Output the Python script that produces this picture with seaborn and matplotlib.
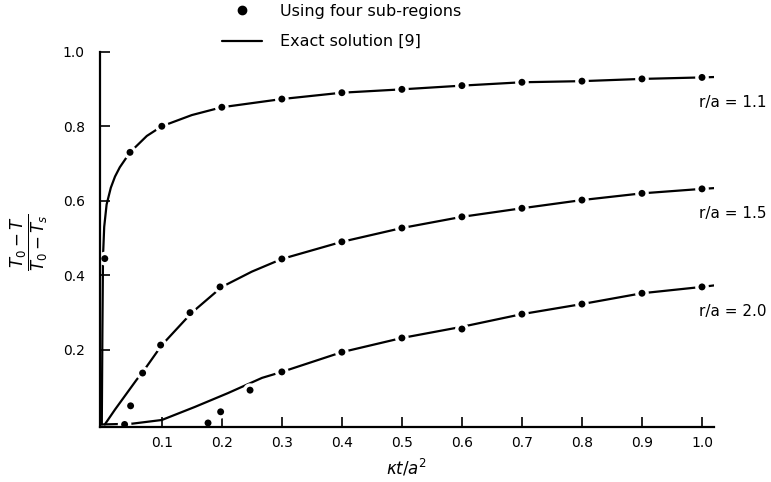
import pandas as pd
import seaborn as sns
import matplotlib.pyplot as plt
from matplotlib.lines import Line2D

# numerical results (four sub-regions)
r11_x = [0.005, 0.047, 0.1, 0.2, 0.3, 0.4, 0.5, 0.6, 0.7, 0.8, 0.9, 1.0]
r11_y = [0.445, 0.73, 0.80, 0.851, 0.873, 0.89, 0.899, 0.909, 0.918, 0.921, 0.927, 0.931]
r15_x = [0.048, 0.068, 0.098, 0.147, 0.197, 0.3, 0.4, 0.5, 0.6, 0.7, 0.8, 0.9, 1.0]
r15_y = [0.05, 0.138, 0.213, 0.30, 0.369, 0.444, 0.49, 0.527, 0.557, 0.58, 0.602, 0.62, 0.632]
r20_x = [0.038, 0.177, 0.198, 0.247, 0.3, 0.4, 0.5, 0.6, 0.7, 0.8, 0.9, 1.0]
r20_y = [0.0, 0.004, 0.034, 0.092, 0.141, 0.194, 0.232, 0.256, 0.296, 0.323, 0.352, 0.369]

# exact solution [9]
ex11_x = [0, 0.001, 0.002, 0.004, 0.008, 0.015, 0.022, 0.03, 0.047, 0.075, 0.1,
          0.15, 0.2, 0.3, 0.4, 0.5, 0.6, 0.7, 0.8, 0.9, 1.0, 1.02]
ex11_y = [0, 0.25, 0.45, 0.53, 0.59, 0.635, 0.665, 0.69, 0.73, 0.774, 0.80,
          0.83, 0.851, 0.873, 0.89, 0.899, 0.909, 0.918, 0.921, 0.927, 0.931, 0.932]
ex15_x = [0.005, 0.022, 0.04, 0.058, 0.068, 0.1, 0.15, 0.2, 0.25, 0.3, 0.4,
          0.5, 0.6, 0.7, 0.8, 0.9, 1.0, 1.02]
ex15_y = [0, 0.04, 0.08, 0.12, 0.14, 0.213, 0.30, 0.369, 0.41, 0.444, 0.49,
          0.527, 0.557, 0.58, 0.602, 0.62, 0.632, 0.634]
ex20_x = [0.0, 0.05, 0.1, 0.155, 0.21, 0.267, 0.3, 0.4, 0.5, 0.6, 0.7, 0.8,
          0.9, 1.0, 1.02]
ex20_y = [0, 0.002, 0.012, 0.047, 0.084, 0.125, 0.141, 0.194, 0.232, 0.262,
          0.296, 0.323, 0.352, 0.369, 0.373]

curve_labels = ["r/a = 1.1", "r/a = 1.5", "r/a = 2.0"]
x_ticks = [0.1, 0.2, 0.3, 0.4, 0.5, 0.6, 0.7, 0.8, 0.9, 1.0]
y_ticks = [0.2, 0.4, 0.6, 0.8, 1.0]

pts = pd.concat([
    pd.DataFrame({"x": r11_x, "y": r11_y, "curve": curve_labels[0]}),
    pd.DataFrame({"x": r15_x, "y": r15_y, "curve": curve_labels[1]}),
    pd.DataFrame({"x": r20_x, "y": r20_y, "curve": curve_labels[2]}),
])
exact = pd.concat([
    pd.DataFrame({"x": ex11_x, "y": ex11_y, "curve": curve_labels[0]}),
    pd.DataFrame({"x": ex15_x, "y": ex15_y, "curve": curve_labels[1]}),
    pd.DataFrame({"x": ex20_x, "y": ex20_y, "curve": curve_labels[2]}),
])

sns.set_style("ticks")
plt.rcParams["font.family"] = ["DejaVu Sans"]
plt.rcParams["text.color"] = "black"
plt.rcParams["axes.labelcolor"] = "black"

fig = plt.figure(figsize=(7.71, 4.82), dpi=100)
ax = fig.add_axes([100 / 771, 1 - 426.7 / 482, 614 / 771, (426.7 - 51.7) / 482])

black = {c: "black" for c in curve_labels}
sns.lineplot(data=exact, x="x", y="y", hue="curve", palette=black,
             linewidth=1.6, legend=False, ax=ax, zorder=2)
# white ring round each dot gives the broken-line look of the original
sns.scatterplot(data=pts, x="x", y="y", hue="curve", palette=black, s=55,
                edgecolor="white", linewidth=2.4, legend=False, ax=ax, zorder=3)

for lab, xs, ys in [(curve_labels[0], r11_x, r11_y),
                    (curve_labels[1], r15_x, r15_y),
                    (curve_labels[2], r20_x, r20_y)]:
    ax.annotate(lab, xy=(xs[-1], ys[-1]), xytext=(-2, -18),
                textcoords="offset points", ha="left", va="center", fontsize=11)

ax.set_xlim(-0.003, 1.02)
ax.set_ylim(-0.006, 1.0)
ax.set_xticks(x_ticks)
ax.set_yticks(y_ticks)
ax.set_xticklabels([f"{t:.1f}" for t in x_ticks])
ax.set_yticklabels([f"{t:.1f}" for t in y_ticks])
ax.tick_params(direction="in", length=7, width=1.2, labelsize=10, colors="black")
ax.tick_params(axis="y", pad=11)
ax.tick_params(axis="x", pad=7)
sns.despine(ax=ax)
for side in ["left", "bottom"]:
    ax.spines[side].set_linewidth(1.6)
    ax.spines[side].set_color("black")
    ax.spines[side].set_zorder(4)

ax.set_xlabel(r"$\kappa t/a^2$", fontsize=12, labelpad=5)
ax.set_ylabel("")
fig.text(29 / 771, 1 - 242 / 482, r"$\dfrac{T_0-T}{T_0-T_s}$", rotation=90,
         ha="center", va="center", fontsize=12)

handles = [
    Line2D([], [], marker="o", color="black", linestyle="none", markersize=6),
    Line2D([], [], color="black", linewidth=1.6),
]
fig.legend(handles, ["Using four sub-regions", "Exact solution [9]"],
           loc="upper left", bbox_to_anchor=(222 / 771, 1 - 4 / 482),
           frameon=False, fontsize=11.5, handlelength=2.5, handletextpad=1.1,
           labelspacing=0.95, borderpad=0, borderaxespad=0)

fig.savefig("out.png", dpi=100)
